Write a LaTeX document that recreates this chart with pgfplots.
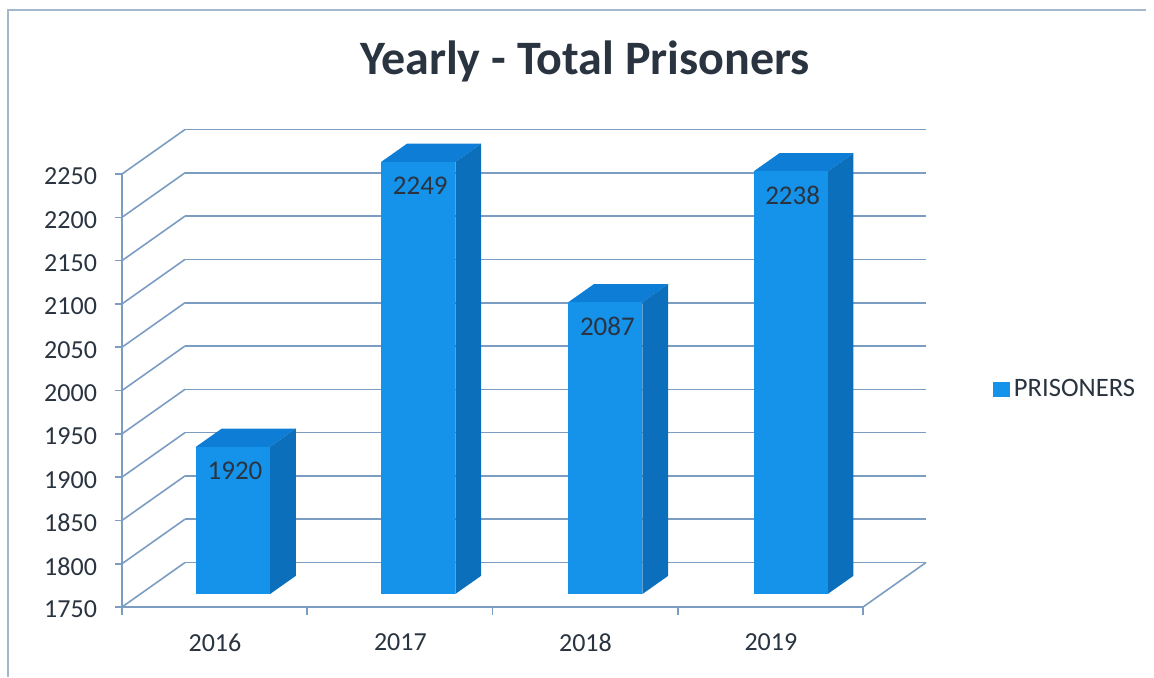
\documentclass[border=0pt]{standalone}
\usepackage{fontspec}
\setmainfont{Carlito}
\usepackage{pgfplots}
\pgfplotsset{compat=1.18}
\definecolor{barfront}{HTML}{1592EA}
\definecolor{bartop}{HTML}{0D7DD6}
\definecolor{barside}{HTML}{0C6FBC}
\definecolor{gridline}{HTML}{7C9DC2}
\definecolor{inktext}{HTML}{2A3440}
\definecolor{frameline}{HTML}{A3B7CE}
% Depth of the bars inside the floor, as fractions of the floor depth
\newcommand{\dfront}{0.292}
\newcommand{\dback}{0.70}
% One 3D bar: left edge, right edge, value
\newcommand{\prisonbar}[3]{%
  \addplot3[fill=bartop,draw=none,forget plot] coordinates
    {(#1,\dfront,#3) (#2,\dfront,#3) (#2,\dback,#3) (#1,\dback,#3)};
  \addplot3[fill=barside,draw=none,forget plot] coordinates
    {(#2,\dfront,1750) (#2,\dback,1750) (#2,\dback,#3) (#2,\dfront,#3)};
  \addplot3[fill=barfront,draw=none,forget plot] coordinates
    {(#1,\dfront,1750) (#2,\dfront,1750) (#2,\dfront,#3) (#1,\dfront,#3)};
}
\begin{document}
\begin{tikzpicture}
\begin{axis}[
  x={(92.625pt,0pt)}, y={(31.5pt,22.25pt)}, z={(0pt,0.433pt)},
  xmin=0, xmax=4, ymin=0, ymax=1, zmin=1750, zmax=2250,
  view={0}{90},
  axis line style={draw=none},
  xtick=\empty,
  extra x ticks={0.5,1.5,2.5,3.5},
  extra x tick labels={2016,2017,2018,2019},
  extra x tick style={major tick length=0pt,
    tick label style={xshift=4.3pt,yshift=-10pt}},
  ytick=\empty,
  ztick={1750,1800,...,2250},
  ztick pos=left,
  zmajorgrids=true,
  major grid style={gridline,line width=0.8pt},
  major tick length=0pt,
  tick label style={font=\fontsize{13}{15}\selectfont,text=inktext},
  z tick label style={xshift=-9pt,yshift=4pt},
  /pgf/number format/assume math mode=true,
  /pgf/number format/set thousands separator={},
  clip=false,
  legend style={draw=none,fill=none,font=\fontsize{13.3}{15}\selectfont,text=inktext,
    at={(axis cs:4.668,0,2001)},anchor=west},
]
  % Floor edges and the front vertical edge
  \addplot3[gridline,line width=0.8pt,forget plot] coordinates
    {(0,0,2250) (0,0,1750) (4,0,1750) (4,1,1750)};
  % Tick strokes on the front edges
  \pgfplotsinvokeforeach{1750,1800,...,2250}{
    \addplot3[gridline,line width=0.8pt,forget plot] coordinates {(-0.04,0,#1) (0,0,#1)};
  }
  \pgfplotsinvokeforeach{0,1,2,3,4}{
    \addplot3[gridline,line width=0.8pt,forget plot] coordinates {(#1,0,1750) (#1,0,1741)};
  }

  \prisonbar{0.30}{0.70}{1920}
  \prisonbar{1.30}{1.70}{2249}
  \prisonbar{2.31}{2.71}{2087}
  \prisonbar{3.31}{3.71}{2238}

  % Series key
  \addlegendimage{legend image code/.code={\fill[barfront] (-1pt,-3.5pt) rectangle (7pt,3.5pt);}}
  \addlegendentry{PRISONERS}

  % Value labels on the front faces
  \addplot3[draw=none,forget plot,
    point meta=explicit symbolic,
    nodes near coords,
    every node near coord/.style={anchor=north,yshift=-4pt,xshift=1pt,
      font=\fontsize{13.5}{15}\selectfont,text=inktext},
  ] table[x=x,y=y,z=z,meta=v] {
    x    y     z    v
    0.50 0.292 1920 1920
    1.50 0.292 2249 2249
    2.51 0.292 2087 2087
    3.51 0.292 2238 2238
  };
  \coordinate (f) at (axis cs:0,0,1750);
\end{axis}
\pgfresetboundingbox
% Image-pixel coordinates for the title, outer frame and page size
\begin{scope}[x=0.5pt,y=-0.5pt,shift={(f)},shift={(-122,-607)}]
  \useasboundingbox (0,0) rectangle (1154,677);
  \draw[frameline,line width=0.6pt] (8,677) -- (8,10) -- (1146,10);
  \node[font=\bfseries\fontsize{24}{28}\selectfont,text=inktext] at (585,61) {Yearly - Total Prisoners};
\end{scope}
\end{tikzpicture}
\end{document}
